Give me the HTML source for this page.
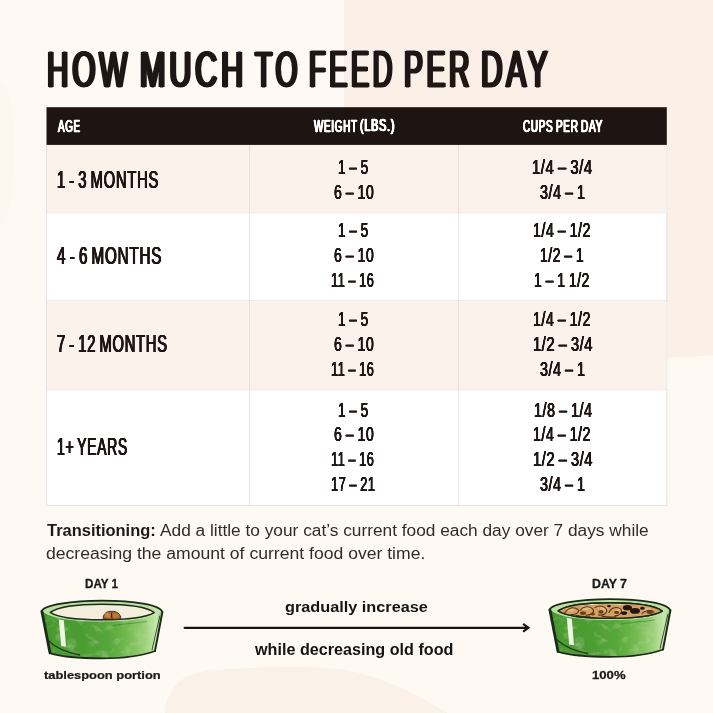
<!DOCTYPE html>
<html lang="en"><head><meta charset="utf-8"><title>How much to feed per day</title>
<style>
html,body{margin:0;padding:0;}
body{width:713px;height:713px;overflow:hidden;background:#fefaf3;position:relative;font-family:"Liberation Sans",sans-serif;}
#art{position:absolute;left:0;top:0;}
.t{position:absolute;white-space:pre;line-height:1;font-weight:700;transform-origin:0 0;font-family:"Liberation Sans",sans-serif;}
</style></head><body>
<svg id="art" width="713" height="713" viewBox="0 0 713 713">
<defs>
<linearGradient id="gb" x1="0" y1="0" x2="1" y2="0">
<stop offset="0" stop-color="#3f8f2b"/><stop offset="0.1" stop-color="#4b9d31"/><stop offset="0.3" stop-color="#4a9b31"/><stop offset="0.55" stop-color="#56a73a"/><stop offset="0.72" stop-color="#74bb52"/><stop offset="0.86" stop-color="#9fd17c"/><stop offset="0.95" stop-color="#c9e7b0"/><stop offset="1" stop-color="#86c462"/>
</linearGradient>
<filter id="wc" x="-5%" y="-5%" width="110%" height="110%">
<feTurbulence type="fractalNoise" baseFrequency="0.09 0.12" numOctaves="3" seed="7" result="n"/>
<feColorMatrix in="n" type="matrix" values="0 0 0 0 0.6  0 0 0 0 0.83  0 0 0 0 0.42  0.8 0 0 0 -0.43" result="m"/>
<feComposite in="m" in2="SourceGraphic" operator="in" result="mm"/>
<feMerge><feMergeNode in="SourceGraphic"/><feMergeNode in="mm"/></feMerge>
</filter>
<g id="bowl">
<path d="M41.5 611 C43 605 72 600.6 102 600.6 C134 600.6 160 604.6 162.6 611.6 L155 651 C141 656.2 121 658.4 101.5 658.4 C80 658.4 61 656.6 49.8 653 Z" fill="url(#gb)" filter="url(#wc)"/>
<path d="M42.2 611 C45 605.4 72 601.4 102 601.4 C133 601.4 158 605 161.6 611.4 C155 618 130 621.6 101.5 621.6 C72 621.6 48 618 42.2 611 Z" fill="#c2e2a8" opacity="0.95"/>
<path d="M58.8 619.6 L63.8 620.2 L66 646.6 L61.2 646.2 Z" fill="#eef6e2"/>
<path d="M48.7 641 C56 648 66 652.5 80 655" fill="none" stroke="#1c2a1b" stroke-width="1.3" opacity="0.85"/>
<path d="M159.9 615.6 L152 650" fill="none" stroke="#1c2a1b" stroke-width="1" opacity="0.8"/>
<path d="M113 625.5 C125 623.6 138 623 147 621.4" fill="none" stroke="#2f6a26" stroke-width="0.8" opacity="0.6"/>
<path d="M50.2 612.4 C58 606.6 80 604.2 102 604.2 C126 604.2 147 606.6 154.2 612.6 C146 617.4 124 619.8 101.5 619.8 C80 619.8 58 617.6 50.2 612.4 Z" fill="#f3eedb" stroke="#1c2a1b" stroke-width="1.5" stroke-linejoin="round"/>
<path d="M41.6 611.4 C43 605 72 600.6 102 600.6 C134 600.6 160 604.6 162.4 612" fill="none" stroke="#1c2a1b" stroke-width="1.8" stroke-linecap="round"/>
<path d="M41.9 611.4 L50 653" fill="none" stroke="#1c2a1b" stroke-width="2.8" stroke-linecap="round"/>
<path d="M162.4 612 L155 651" fill="none" stroke="#1c2a1b" stroke-width="1.9" stroke-linecap="round"/>
<path d="M49.9 653.2 C61 656.8 80 658.4 101.5 658.4 C121 658.4 141 656.2 155 651" fill="none" stroke="#1c2a1b" stroke-width="1.8" stroke-linecap="round"/>
</g>
</defs>
<!-- background -->
<rect x="0" y="0" width="713" height="713" fill="#fefaf3"/>
<path d="M344 0H713V355.3L667 357.8L344 360Z" fill="#faf0e7"/>
<path d="M165 713 C166 700 172 685 186 677 C200 670 225 669 250 668 C290 666 320 666.5 345 670 C375 675 410 690 448 713 Z" fill="#faf1e8"/>
<path d="M0 82 C10 90 14 110 14 150 C14 190 10 215 0 226 Z" fill="#fcf8f0"/>
<!-- table -->
<rect x="46.5" y="145" width="620.3" height="360.4" fill="#ffffff" stroke="#e6e3e2" stroke-width="1"/>
<rect x="47" y="145" width="619.3" height="67.4" fill="#fcf2ec"/>
<rect x="47" y="301" width="619.3" height="88.4" fill="#fcf2ec"/>
<path d="M47 212.8H666.4M47 300.5H666.4M47 389.9H666.4" stroke="#8c8884" stroke-opacity="0.16" stroke-width="1" fill="none"/>
<path d="M249.5 145V505.4M458.4 145V505.4" stroke="#8c8884" stroke-opacity="0.17" stroke-width="1" fill="none"/>
<rect x="46.5" y="107.2" width="620.3" height="37.7" fill="#1e1513"/>
<!-- arrow -->
<path d="M184.6 627.8H528" stroke="#171412" stroke-width="2.2" stroke-linecap="round" fill="none"/>
<path d="M523.8 624.4L528.4 627.8L523.8 631.2" stroke="#171412" stroke-width="2.2" stroke-linecap="round" stroke-linejoin="miter" fill="none"/>
<!-- bowls -->
<use href="#bowl"/>
<g>
<path d="M103.2 618.6 C103 613.4 107.6 610.8 111.6 611.4 C116.4 610.8 121 614 120.8 618.8 C115 619.8 108 619.8 103.2 618.6 Z" fill="#a8672f" stroke="#3d2412" stroke-width="0.9"/>
<ellipse cx="107.6" cy="615" rx="3" ry="2.6" fill="#c48545"/>
<ellipse cx="116" cy="615.6" rx="2.8" ry="2.4" fill="#b97a3c"/>
<path d="M111.8 612.4 C111 614.5 111.4 617 112.2 619" fill="none" stroke="#3d2412" stroke-width="1"/>
</g>
<use href="#bowl" transform="translate(508,-1.5)"/>
<g transform="translate(508,-1.5)">
<clipPath id="ic"><path d="M50.2 612.4 C58 606.6 80 604.2 102 604.2 C126 604.2 147 606.6 154.2 612.6 C146 617.4 124 619.8 101.5 619.8 C80 619.8 58 617.6 50.2 612.4 Z"/></clipPath>
<g clip-path="url(#ic)">
<path d="M50 613 C56 608.4 70 606.4 84 606.6 C92 604.8 104 605.6 112 606.2 C122 604.6 136 605.4 142 607.4 C148 608 152 610 155 612.6 L155 621 L50 621 Z" fill="#d2a063"/>
<g fill="#e2b97f"><ellipse cx="62" cy="611" rx="4" ry="2"/><ellipse cx="78" cy="609.6" rx="4.4" ry="2"/><ellipse cx="96" cy="610" rx="4" ry="2.2"/><ellipse cx="112" cy="612.6" rx="4" ry="2"/><ellipse cx="139" cy="611" rx="4" ry="2"/></g>
<g fill="none" stroke="#5b3417" stroke-width="1.1" stroke-linecap="round">
<path d="M57 614 C60 609 66 608 70 611 C72 613.6 68 616.4 63 616"/>
<path d="M72 612 C75 607.6 82 607 85 610.6 C87 614 83 617 78 616.6"/>
<path d="M87 609 C91 606.4 97 607.4 98.6 611 C99.6 614.6 95 617.4 90.6 616.4"/>
<path d="M101 614 C103 609 109 607.6 112.6 610.4 C115 613 112 617 107 617.4"/>
<path d="M134 615 C137 611.4 143 611 146 613.6"/>
<path d="M68 616.8 C72 618 77 618.4 82 618.2 M94 617.6 C99 618.8 104 618.8 108 618.4"/>
</g>
<g fill="#6a3f1d"><ellipse cx="75" cy="614.6" rx="3" ry="1.8"/><ellipse cx="93" cy="613.4" rx="2.6" ry="1.8"/><ellipse cx="108.6" cy="613.8" rx="2.6" ry="1.6"/><ellipse cx="142" cy="613.8" rx="3.4" ry="1.7"/><ellipse cx="84.6" cy="615.6" rx="2.4" ry="1.4"/></g>
<g fill="#231714"><ellipse cx="119.4" cy="609.2" rx="4.6" ry="2.6"/><ellipse cx="127" cy="612.4" rx="5" ry="2.8"/><ellipse cx="116" cy="614.6" rx="3.2" ry="1.8"/><ellipse cx="134.4" cy="609.8" rx="2.4" ry="1.5"/><ellipse cx="101" cy="607.6" rx="2" ry="1.2"/></g>
</g>
<path d="M50.2 612.4 C58 606.6 80 604.2 102 604.2 C126 604.2 147 606.6 154.2 612.6 C146 617.4 124 619.8 101.5 619.8 C80 619.8 58 617.6 50.2 612.4 Z" fill="none" stroke="#1c2a1b" stroke-width="1.5" stroke-linejoin="round"/>
</g>
</svg>

<span class="t" style="left:47.42px;top:44.74px;font-size:50.38px;transform:scale(0.5898,1.0014);color:#1f1715;font-weight:400;-webkit-text-stroke:1.1px #1f1715;letter-spacing:6.5px;text-shadow:2.7px 0 0 #1f1715,-2.7px 0 0 #1f1715,1.35px 0 0 #1f1715,-1.35px 0 0 #1f1715;">HOW</span>
<span class="t" style="left:139.79px;top:44.74px;font-size:50.38px;transform:scale(0.6045,1.0014);color:#1f1715;font-weight:400;-webkit-text-stroke:1.1px #1f1715;letter-spacing:6.5px;text-shadow:2.7px 0 0 #1f1715,-2.7px 0 0 #1f1715,1.35px 0 0 #1f1715,-1.35px 0 0 #1f1715;">MUCH</span>
<span class="t" style="left:254.64px;top:44.74px;font-size:50.38px;transform:scale(0.5618,1.0014);color:#1f1715;font-weight:400;-webkit-text-stroke:1.1px #1f1715;letter-spacing:6.5px;text-shadow:2.7px 0 0 #1f1715,-2.7px 0 0 #1f1715,1.35px 0 0 #1f1715,-1.35px 0 0 #1f1715;">TO</span>
<span class="t" style="left:309.01px;top:42.54px;font-size:52.13px;transform:scale(0.5266,0.9946);color:#1f1715;font-weight:400;-webkit-text-stroke:1.1px #1f1715;letter-spacing:6.5px;text-shadow:2.7px 0 0 #1f1715,-2.7px 0 0 #1f1715,1.35px 0 0 #1f1715,-1.35px 0 0 #1f1715;">FEED</span>
<span class="t" style="left:404.38px;top:42.54px;font-size:52.13px;transform:scale(0.5454,0.9946);color:#1f1715;font-weight:400;-webkit-text-stroke:1.1px #1f1715;letter-spacing:6.5px;text-shadow:2.7px 0 0 #1f1715,-2.7px 0 0 #1f1715,1.35px 0 0 #1f1715,-1.35px 0 0 #1f1715;">PER</span>
<span class="t" style="left:480.64px;top:42.54px;font-size:52.13px;transform:scale(0.5729,0.9946);color:#1f1715;font-weight:400;-webkit-text-stroke:1.1px #1f1715;letter-spacing:6.5px;text-shadow:2.7px 0 0 #1f1715,-2.7px 0 0 #1f1715,1.35px 0 0 #1f1715,-1.35px 0 0 #1f1715;">DAY</span>
<span class="t" style="left:57.75px;top:117.65px;font-size:16.5px;transform:scale(0.5935,1.0000);color:#fff;font-weight:400;-webkit-text-stroke:0.3px #fff;letter-spacing:1.2px;text-shadow:0.9px 0 0 #fff,-0.9px 0 0 #fff,0.45px 0 0 #fff,-0.45px 0 0 #fff;">AGE</span>
<span class="t" style="left:313.55px;top:117.65px;font-size:16.5px;transform:scale(0.5980,1.0000);color:#fff;font-weight:400;-webkit-text-stroke:0.3px #fff;letter-spacing:1.2px;text-shadow:0.9px 0 0 #fff,-0.9px 0 0 #fff,0.45px 0 0 #fff,-0.45px 0 0 #fff;">WEIGHT</span>
<span class="t" style="left:360.00px;top:117.80px;font-size:15.65px;transform:scale(0.6846,0.9966);color:#fff;font-weight:400;-webkit-text-stroke:0.3px #fff;letter-spacing:1.2px;text-shadow:0.9px 0 0 #fff,-0.9px 0 0 #fff,0.45px 0 0 #fff,-0.45px 0 0 #fff;">(LBS.)</span>
<span class="t" style="left:522.80px;top:117.65px;font-size:16.5px;transform:scale(0.6000,1.0000);color:#fff;font-weight:400;-webkit-text-stroke:0.3px #fff;letter-spacing:1.2px;text-shadow:0.9px 0 0 #fff,-0.9px 0 0 #fff,0.45px 0 0 #fff,-0.45px 0 0 #fff;">CUPS</span>
<span class="t" style="left:555.61px;top:117.90px;font-size:17.22px;transform:scale(0.5799,1.0000);color:#fff;font-weight:400;-webkit-text-stroke:0.3px #fff;letter-spacing:1.2px;text-shadow:0.9px 0 0 #fff,-0.9px 0 0 #fff,0.45px 0 0 #fff,-0.45px 0 0 #fff;">PER</span>
<span class="t" style="left:581.01px;top:117.90px;font-size:17.22px;transform:scale(0.5836,1.0000);color:#fff;font-weight:400;-webkit-text-stroke:0.3px #fff;letter-spacing:1.2px;text-shadow:0.9px 0 0 #fff,-0.9px 0 0 #fff,0.45px 0 0 #fff,-0.45px 0 0 #fff;">DAY</span>
<span class="t" style="left:56.90px;top:167.66px;font-size:24.56px;transform:scale(0.6006,0.9943);color:#1f1715;font-weight:400;-webkit-text-stroke:0.15px #1f1715;letter-spacing:1.3px;word-spacing:-2.6px;text-shadow:0.75px 0 0 #1f1715,-0.75px 0 0 #1f1715,0.375px 0 0 #1f1715,-0.375px 0 0 #1f1715;">1 - 3 MONTHS</span>
<span class="t" style="left:57.35px;top:243.76px;font-size:24.56px;transform:scale(0.6181,0.9943);color:#1f1715;font-weight:400;-webkit-text-stroke:0.15px #1f1715;letter-spacing:1.3px;word-spacing:-2.6px;text-shadow:0.75px 0 0 #1f1715,-0.75px 0 0 #1f1715,0.375px 0 0 #1f1715,-0.375px 0 0 #1f1715;">4 - 6 MONTHS</span>
<span class="t" style="left:57.00px;top:332.21px;font-size:24.85px;transform:scale(0.5919,0.9915);color:#1f1715;font-weight:400;-webkit-text-stroke:0.15px #1f1715;letter-spacing:1.3px;word-spacing:-2.6px;text-shadow:0.75px 0 0 #1f1715,-0.75px 0 0 #1f1715,0.375px 0 0 #1f1715,-0.375px 0 0 #1f1715;">7 - 12 MONTHS</span>
<span class="t" style="left:56.73px;top:435.07px;font-size:24.42px;transform:scale(0.5689,0.9886);color:#1f1715;font-weight:400;-webkit-text-stroke:0.15px #1f1715;letter-spacing:1.3px;word-spacing:-2.6px;text-shadow:0.75px 0 0 #1f1715,-0.75px 0 0 #1f1715,0.375px 0 0 #1f1715,-0.375px 0 0 #1f1715;">1+ YEARS</span>
<span class="t" style="left:337.98px;top:157.37px;font-size:20.54px;transform:scale(0.6591,0.9895);color:#1f1715;font-weight:400;-webkit-text-stroke:0.1px #1f1715;letter-spacing:0.8px;word-spacing:-1.5px;text-shadow:0.36px 0 0 #1f1715,-0.36px 0 0 #1f1715,0.18px 0 0 #1f1715,-0.18px 0 0 #1f1715;">1 – 5</span>
<span class="t" style="left:532.10px;top:157.37px;font-size:20.54px;transform:scale(0.7217,0.9895);color:#1f1715;font-weight:400;-webkit-text-stroke:0.1px #1f1715;letter-spacing:0.8px;word-spacing:-1.5px;text-shadow:0.36px 0 0 #1f1715,-0.36px 0 0 #1f1715,0.18px 0 0 #1f1715,-0.18px 0 0 #1f1715;">1/4 – 3/4</span>
<span class="t" style="left:333.79px;top:182.17px;font-size:20.54px;transform:scale(0.6837,0.9895);color:#1f1715;font-weight:400;-webkit-text-stroke:0.1px #1f1715;letter-spacing:0.8px;word-spacing:-1.5px;text-shadow:0.36px 0 0 #1f1715,-0.36px 0 0 #1f1715,0.18px 0 0 #1f1715,-0.18px 0 0 #1f1715;">6 – 10</span>
<span class="t" style="left:540.05px;top:182.17px;font-size:20.54px;transform:scale(0.6976,0.9895);color:#1f1715;font-weight:400;-webkit-text-stroke:0.1px #1f1715;letter-spacing:0.8px;word-spacing:-1.5px;text-shadow:0.36px 0 0 #1f1715,-0.36px 0 0 #1f1715,0.18px 0 0 #1f1715,-0.18px 0 0 #1f1715;">3/4 – 1</span>
<span class="t" style="left:337.98px;top:220.47px;font-size:20.54px;transform:scale(0.6591,0.9895);color:#1f1715;font-weight:400;-webkit-text-stroke:0.1px #1f1715;letter-spacing:0.8px;word-spacing:-1.5px;text-shadow:0.36px 0 0 #1f1715,-0.36px 0 0 #1f1715,0.18px 0 0 #1f1715,-0.18px 0 0 #1f1715;">1 – 5</span>
<span class="t" style="left:533.14px;top:220.47px;font-size:20.54px;transform:scale(0.6896,0.9895);color:#1f1715;font-weight:400;-webkit-text-stroke:0.1px #1f1715;letter-spacing:0.8px;word-spacing:-1.5px;text-shadow:0.36px 0 0 #1f1715,-0.36px 0 0 #1f1715,0.18px 0 0 #1f1715,-0.18px 0 0 #1f1715;">1/4 – 1/2</span>
<span class="t" style="left:333.79px;top:245.17px;font-size:20.54px;transform:scale(0.6837,0.9895);color:#1f1715;font-weight:400;-webkit-text-stroke:0.1px #1f1715;letter-spacing:0.8px;word-spacing:-1.5px;text-shadow:0.36px 0 0 #1f1715,-0.36px 0 0 #1f1715,0.18px 0 0 #1f1715,-0.18px 0 0 #1f1715;">6 – 10</span>
<span class="t" style="left:540.16px;top:245.17px;font-size:20.54px;transform:scale(0.6757,0.9895);color:#1f1715;font-weight:400;-webkit-text-stroke:0.1px #1f1715;letter-spacing:0.8px;word-spacing:-1.5px;text-shadow:0.36px 0 0 #1f1715,-0.36px 0 0 #1f1715,0.18px 0 0 #1f1715,-0.18px 0 0 #1f1715;">1/2 – 1</span>
<span class="t" style="left:331.32px;top:269.87px;font-size:20.54px;transform:scale(0.6224,0.9895);color:#1f1715;font-weight:400;-webkit-text-stroke:0.1px #1f1715;letter-spacing:0.8px;word-spacing:-1.5px;text-shadow:0.36px 0 0 #1f1715,-0.36px 0 0 #1f1715,0.18px 0 0 #1f1715,-0.18px 0 0 #1f1715;">11 – 16</span>
<span class="t" style="left:534.35px;top:269.87px;font-size:20.54px;transform:scale(0.6762,0.9895);color:#1f1715;font-weight:400;-webkit-text-stroke:0.1px #1f1715;letter-spacing:0.8px;word-spacing:-1.5px;text-shadow:0.36px 0 0 #1f1715,-0.36px 0 0 #1f1715,0.18px 0 0 #1f1715,-0.18px 0 0 #1f1715;">1 – 1 1/2</span>
<span class="t" style="left:337.98px;top:309.47px;font-size:20.54px;transform:scale(0.6591,0.9895);color:#1f1715;font-weight:400;-webkit-text-stroke:0.1px #1f1715;letter-spacing:0.8px;word-spacing:-1.5px;text-shadow:0.36px 0 0 #1f1715,-0.36px 0 0 #1f1715,0.18px 0 0 #1f1715,-0.18px 0 0 #1f1715;">1 – 5</span>
<span class="t" style="left:533.14px;top:309.47px;font-size:20.54px;transform:scale(0.6896,0.9895);color:#1f1715;font-weight:400;-webkit-text-stroke:0.1px #1f1715;letter-spacing:0.8px;word-spacing:-1.5px;text-shadow:0.36px 0 0 #1f1715,-0.36px 0 0 #1f1715,0.18px 0 0 #1f1715,-0.18px 0 0 #1f1715;">1/4 – 1/2</span>
<span class="t" style="left:333.79px;top:334.17px;font-size:20.54px;transform:scale(0.6837,0.9895);color:#1f1715;font-weight:400;-webkit-text-stroke:0.1px #1f1715;letter-spacing:0.8px;word-spacing:-1.5px;text-shadow:0.36px 0 0 #1f1715,-0.36px 0 0 #1f1715,0.18px 0 0 #1f1715,-0.18px 0 0 #1f1715;">6 – 10</span>
<span class="t" style="left:533.01px;top:334.17px;font-size:20.54px;transform:scale(0.7144,0.9895);color:#1f1715;font-weight:400;-webkit-text-stroke:0.1px #1f1715;letter-spacing:0.8px;word-spacing:-1.5px;text-shadow:0.36px 0 0 #1f1715,-0.36px 0 0 #1f1715,0.18px 0 0 #1f1715,-0.18px 0 0 #1f1715;">1/2 – 3/4</span>
<span class="t" style="left:331.32px;top:358.87px;font-size:20.54px;transform:scale(0.6224,0.9895);color:#1f1715;font-weight:400;-webkit-text-stroke:0.1px #1f1715;letter-spacing:0.8px;word-spacing:-1.5px;text-shadow:0.36px 0 0 #1f1715,-0.36px 0 0 #1f1715,0.18px 0 0 #1f1715,-0.18px 0 0 #1f1715;">11 – 16</span>
<span class="t" style="left:540.05px;top:358.87px;font-size:20.54px;transform:scale(0.6976,0.9895);color:#1f1715;font-weight:400;-webkit-text-stroke:0.1px #1f1715;letter-spacing:0.8px;word-spacing:-1.5px;text-shadow:0.36px 0 0 #1f1715,-0.36px 0 0 #1f1715,0.18px 0 0 #1f1715,-0.18px 0 0 #1f1715;">3/4 – 1</span>
<span class="t" style="left:337.98px;top:399.97px;font-size:20.54px;transform:scale(0.6591,0.9895);color:#1f1715;font-weight:400;-webkit-text-stroke:0.1px #1f1715;letter-spacing:0.8px;word-spacing:-1.5px;text-shadow:0.36px 0 0 #1f1715,-0.36px 0 0 #1f1715,0.18px 0 0 #1f1715,-0.18px 0 0 #1f1715;">1 – 5</span>
<span class="t" style="left:533.53px;top:399.97px;font-size:20.54px;transform:scale(0.6960,0.9895);color:#1f1715;font-weight:400;-webkit-text-stroke:0.1px #1f1715;letter-spacing:0.8px;word-spacing:-1.5px;text-shadow:0.36px 0 0 #1f1715,-0.36px 0 0 #1f1715,0.18px 0 0 #1f1715,-0.18px 0 0 #1f1715;">1/8 – 1/4</span>
<span class="t" style="left:333.79px;top:423.57px;font-size:20.54px;transform:scale(0.6837,0.9895);color:#1f1715;font-weight:400;-webkit-text-stroke:0.1px #1f1715;letter-spacing:0.8px;word-spacing:-1.5px;text-shadow:0.36px 0 0 #1f1715,-0.36px 0 0 #1f1715,0.18px 0 0 #1f1715,-0.18px 0 0 #1f1715;">6 – 10</span>
<span class="t" style="left:533.14px;top:423.57px;font-size:20.54px;transform:scale(0.6896,0.9895);color:#1f1715;font-weight:400;-webkit-text-stroke:0.1px #1f1715;letter-spacing:0.8px;word-spacing:-1.5px;text-shadow:0.36px 0 0 #1f1715,-0.36px 0 0 #1f1715,0.18px 0 0 #1f1715,-0.18px 0 0 #1f1715;">1/4 – 1/2</span>
<span class="t" style="left:331.32px;top:449.17px;font-size:20.54px;transform:scale(0.6224,0.9895);color:#1f1715;font-weight:400;-webkit-text-stroke:0.1px #1f1715;letter-spacing:0.8px;word-spacing:-1.5px;text-shadow:0.36px 0 0 #1f1715,-0.36px 0 0 #1f1715,0.18px 0 0 #1f1715,-0.18px 0 0 #1f1715;">11 – 16</span>
<span class="t" style="left:533.01px;top:449.17px;font-size:20.54px;transform:scale(0.7144,0.9895);color:#1f1715;font-weight:400;-webkit-text-stroke:0.1px #1f1715;letter-spacing:0.8px;word-spacing:-1.5px;text-shadow:0.36px 0 0 #1f1715,-0.36px 0 0 #1f1715,0.18px 0 0 #1f1715,-0.18px 0 0 #1f1715;">1/2 – 3/4</span>
<span class="t" style="left:330.92px;top:473.87px;font-size:20.54px;transform:scale(0.6248,0.9895);color:#1f1715;font-weight:400;-webkit-text-stroke:0.1px #1f1715;letter-spacing:0.8px;word-spacing:-1.5px;text-shadow:0.36px 0 0 #1f1715,-0.36px 0 0 #1f1715,0.18px 0 0 #1f1715,-0.18px 0 0 #1f1715;">17 – 21</span>
<span class="t" style="left:540.05px;top:473.87px;font-size:20.54px;transform:scale(0.6976,0.9895);color:#1f1715;font-weight:400;-webkit-text-stroke:0.1px #1f1715;letter-spacing:0.8px;word-spacing:-1.5px;text-shadow:0.36px 0 0 #1f1715,-0.36px 0 0 #1f1715,0.18px 0 0 #1f1715,-0.18px 0 0 #1f1715;">3/4 – 1</span>
<span class="t" style="left:46.74px;top:523.40px;font-size:16px;transform:scale(1.0279,1.0000);color:#1c1a19;">Transitioning:</span>
<span class="t" style="left:159.90px;top:523.40px;font-size:16px;transform:scale(1.0802,1.0000);color:#302c2a;font-weight:400;">Add a little to your cat’s current food each day over 7 days while</span>
<span class="t" style="left:46.18px;top:546.00px;font-size:16px;transform:scale(1.0993,1.0000);color:#302c2a;font-weight:400;">decreasing the amount of current food over time.</span>
<span class="t" style="left:85.49px;top:577.66px;font-size:12.28px;transform:scale(0.9481,1.0235);color:#1a1a1a;-webkit-text-stroke:0.3px #1a1a1a;">DAY 1</span>
<span class="t" style="left:592.35px;top:577.66px;font-size:12.28px;transform:scale(1.0060,1.0235);color:#1a1a1a;-webkit-text-stroke:0.3px #1a1a1a;">DAY 7</span>
<span class="t" style="left:44.00px;top:669.79px;font-size:11.41px;transform:scale(1.1299,0.9727);color:#1a1a1a;-webkit-text-stroke:0.25px #1a1a1a;">tablespoon portion</span>
<span class="t" style="left:592.44px;top:668.65px;font-size:11.66px;transform:scale(1.1248,1.0000);color:#1a1a1a;-webkit-text-stroke:0.3px #1a1a1a;">100%</span>
<span class="t" style="left:285.39px;top:599.41px;font-size:15.11px;transform:scale(1.0768,0.9895);color:#141414;">gradually increase</span>
<span class="t" style="left:254.80px;top:641.59px;font-size:15.96px;transform:scale(1.0126,1.0102);color:#141414;">while decreasing old food</span>
</body></html>
